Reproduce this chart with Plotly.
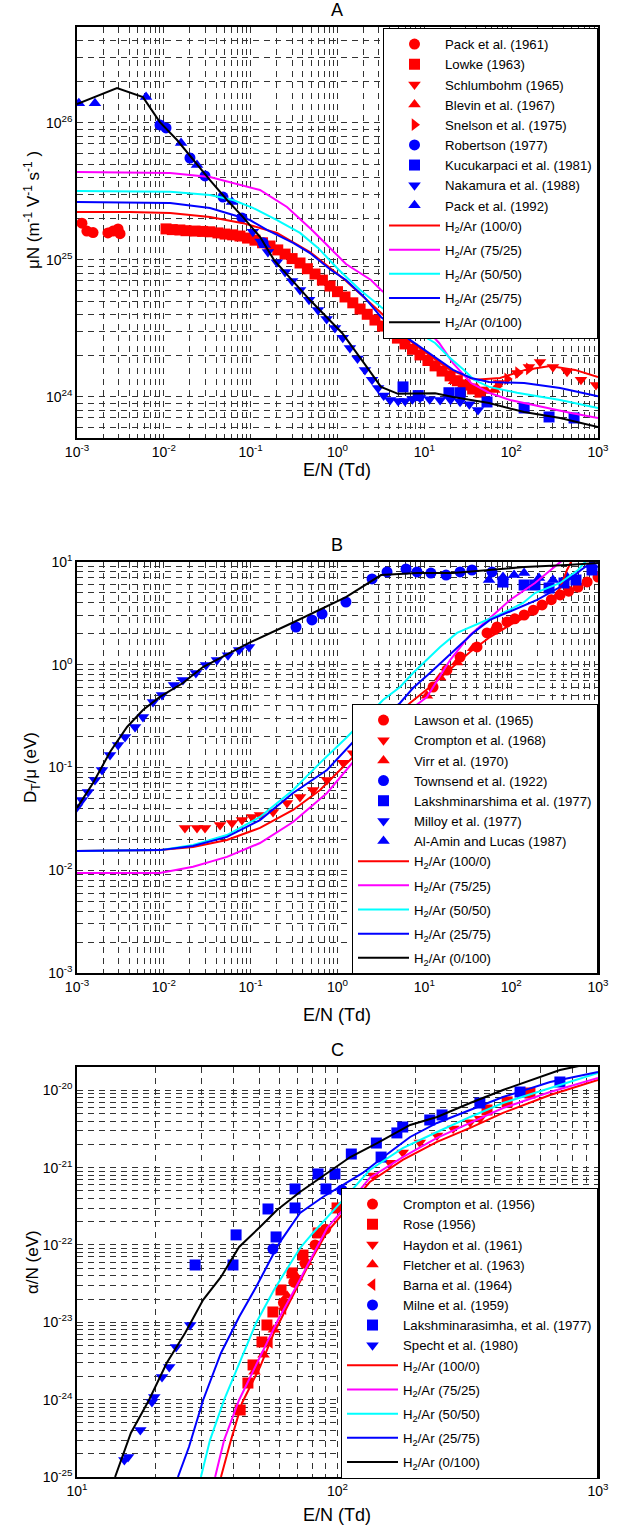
import plotly.graph_objects as go

FIG_W, FIG_H = 620, 1531
RED, MAG, CYA, BLU, BLK = "#ff0000", "#ff00ff", "#00ffff", "#0000ff", "#000000"
FONT = "Liberation Sans, Arial, sans-serif"
GRID = "#333333"

mix_names = ["H<sub>2</sub>/Ar (100/0)", "H<sub>2</sub>/Ar (75/25)", "H<sub>2</sub>/Ar (50/50)",
             "H<sub>2</sub>/Ar (25/75)", "H<sub>2</sub>/Ar (0/100)"]
mix_colors = [RED, MAG, CYA, BLU, BLK]

# ================= Panel A : mobility  muN =================
a_pack61_x = [1.14e-3, 1.30e-3, 1.53e-3, 2.27e-3, 2.60e-3, 2.97e-3, 3.13e-3]
a_pack61_y = [1.85e25, 1.62e25, 1.58e25, 1.57e25, 1.62e25, 1.68e25, 1.55e25]
a_lowke_x = [0.0106, 0.0125, 0.0153, 0.018, 0.0229, 0.028, 0.034, 0.042, 0.0506, 0.062, 0.0753, 0.092,
             0.112, 0.137, 0.167, 0.205, 0.249, 0.30, 0.370, 0.45, 0.551, 0.67, 0.820, 1.0, 1.22, 1.5,
             1.82, 2.2, 2.70, 3.3, 4.02, 4.9, 5.99, 7.3, 8.91, 11, 13.3, 16, 19.8, 24, 29.4, 36, 43.8]
a_lowke_y = [1.68e25, 1.66e25, 1.65e25, 1.63e25, 1.62e25, 1.61e25, 1.60e25, 1.57e25, 1.54e25, 1.52e25,
             1.49e25, 1.44e25, 1.39e25, 1.33e25, 1.26e25, 1.18e25, 1.10e25, 1.02e25, 9.47e24, 8.6e24,
             7.87e24, 7.1e24, 6.43e24, 5.85e24, 5.35e24, 4.85e24, 4.37e24, 4.0e24, 3.63e24, 3.28e24,
             2.97e24, 2.68e24, 2.43e24, 2.22e24, 2.02e24, 1.84e24, 1.68e24, 1.54e24, 1.42e24, 1.31e24,
             1.22e24, 1.14e24, 1.08e24]
a_schlum_x = [72.4, 117, 160, 215, 303, 440, 637, 948]
a_schlum_y = [1.26e24, 1.49e24, 1.65e24, 1.79e24, 1.65e24, 1.52e24, 1.33e24, 1.22e24]
a_blevin_x = [22, 28, 34, 42, 52, 64]
a_blevin_y = [1.30e24, 1.22e24, 1.17e24, 1.12e24, 1.10e24, 1.12e24]
a_snelson_x = [70, 90, 120, 160]
a_snelson_y = [1.2e24, 1.35e24, 1.5e24, 1.6e24]
a_robertson_x = [9.03e-3, 1.06e-2, 2.00e-2, 2.98e-2, 4.80e-2, 7.94e-2, 0.139]
a_robertson_y = [9.64e25, 9.16e25, 5.53e25, 4.09e25, 2.87e25, 2.02e25, 1.33e25]
a_kucuk_x = [5.68, 8.5, 19.2, 25.8, 52.7, 141, 273, 530]
a_kucuk_y = [1.18e24, 1.02e24, 1.07e24, 1.07e24, 9.16e23, 8.28e23, 7.12e23, 7.0e23]
a_nakamura_x = [0.106, 0.13, 0.158, 0.2, 0.249, 0.3, 0.370, 0.47, 0.596, 0.75, 0.935, 1.15, 1.39, 1.7,
                2.07, 2.5, 2.93, 3.4, 4.03, 5.0, 5.99, 7.3, 8.91, 11.5, 15.2, 20, 25.8, 33, 41.5]
a_nakamura_y = [1.60e25, 1.36e25, 1.14e25, 9.6e24, 8.14e24, 7.0e24, 6.02e24, 5.1e24, 4.30e24, 3.7e24,
                3.18e24, 2.7e24, 2.27e24, 1.9e24, 1.57e24, 1.33e24, 1.16e24, 1.02e24, 9.47e23, 9.3e23,
                9.31e23, 9.6e23, 9.8e23, 9.6e23, 9.47e23, 9.5e23, 9.2e23, 8.8e23, 8.0e23]
a_pack92_x = [1.05e-3, 1.61e-3, 6.24e-3, 1.58e-2, 2.41e-2, 6.10e-2, 0.146]
a_pack92_y = [1.39e26, 1.39e26, 1.54e26, 7.12e25, 4.92e25, 2.64e25, 1.28e25]

a_h2_100_x = [1e-3, 4.07e-3, 0.0118, 0.034, 0.0817, 0.201, 0.482, 1.22, 3.09, 7.81, 19.8, 38.4, 74.5, 145, 280, 543, 1000]
a_h2_100_y = [2.23e25, 2.23e25, 2.19e25, 2.05e25, 1.85e25, 1.57e25, 1.14e25, 7.12e24, 4.16e24, 2.39e24,
              1.57e24, 1.33e24, 1.37e24, 1.57e24, 1.68e24, 1.57e24, 1.39e24]
a_h2_75_x = [1e-3, 0.0118, 0.034, 0.0627, 0.128, 0.262, 0.508, 0.820, 1.25, 2.43, 3.17, 5.25, 8.91, 14.8,
             21.4, 34.5, 55.6, 97, 227, 489, 1000]
a_h2_75_y = [4.37e25, 4.30e25, 4.02e25, 3.63e25, 3.23e25, 2.43e25, 1.65e25, 1.22e25, 9.31e24, 7.12e24,
             6.02e24, 4.68e24, 3.51e24, 2.47e24, 1.76e24, 1.26e24, 1.07e24, 9.47e23, 8.42e23, 7.6e23, 7.0e23]
a_h2_50_x = [1e-3, 0.0118, 0.034, 0.0627, 0.106, 0.201, 0.370, 0.597, 1.04, 1.82, 3.17, 6.84, 13.3, 19.2,
             28.6, 37.3, 55.6, 117, 366, 1000]
a_h2_50_y = [3.18e25, 3.13e25, 2.97e25, 2.73e25, 2.39e25, 1.95e25, 1.57e25, 1.22e25, 8.42e24, 6.02e24,
             4.52e24, 3.18e24, 2.47e24, 1.95e24, 1.57e24, 1.33e24, 1.18e24, 1.07e24, 9.47e23, 8.28e23]
a_h2_25_x = [1e-3, 0.0118, 0.034, 0.0627, 0.0982, 0.154, 0.308, 0.482, 0.841, 1.25, 2.02, 3.17, 6.84, 14.8,
             21.4, 34.5, 55.6, 141, 366, 1000]
a_h2_25_y = [2.64e25, 2.60e25, 2.39e25, 2.12e25, 1.95e25, 1.65e25, 1.33e25, 1.12e25, 8.42e24, 7.12e24,
             5.35e24, 3.82e24, 2.6e24, 1.85e24, 1.57e24, 1.37e24, 1.28e24, 1.26e24, 1.16e24, 1.01e24]
a_h2_0_x = [1e-3, 2.89e-3, 5.75e-3, 9.0e-3, 1.42e-2, 2.17e-2, 3.40e-2, 5.35e-2, 8.17e-2, 0.128, 0.186, 0.482,
            1.13, 2.02, 3.17, 4.98, 8.24, 13.3, 21.4, 55.6, 141, 366, 1000]
a_h2_0_y = [1.37e26, 1.79e26, 1.54e26, 1.01e26, 7.48e25, 5.35e25, 3.82e25, 2.73e25, 2.05e25, 1.47e25, 9.95e24,
            5.08e24, 2.92e24, 1.76e24, 1.18e24, 1.05e24, 1.06e24, 1.06e24, 9.95e23, 8.99e23, 7.74e23, 7.0e23, 6.0e23]

# ================= Panel B : D_T / mu =================
b_lawson_x = [12.6, 18.2, 25.8, 40.4, 52.7, 68.7, 89.6, 110, 141, 180, 227, 290, 366, 460, 589, 750, 1000]
b_lawson_y = [0.607, 0.889, 1.19, 1.49, 2.04, 2.33, 2.61, 2.8, 3.05, 3.4, 3.82, 4.3, 4.78, 5.2, 5.71, 6.4, 7.14]
b_crompton_x = [0.0175, 0.0241, 0.0298, 0.0444, 0.061, 0.0794, 0.104, 0.128, 0.181, 0.262, 0.370, 0.523, 0.757, 1.16, 1.51]
b_crompton_y = [0.0258, 0.0258, 0.0258, 0.0275, 0.0288, 0.0308, 0.033, 0.0345, 0.0369, 0.0452, 0.0517, 0.0604,
                0.0755, 0.111, 0.138]
b_virr_x = [10.7, 15.2, 23.8, 36.4, 60]
b_virr_y = [0.5, 0.75, 1.05, 1.45, 2.1]
b_townsend_x = [0.333, 0.508, 0.664, 1.25, 2.50, 3.72, 6.15, 8.24, 11.9, 17.8, 25.8, 35.4, 60.2]
b_townsend_y = [2.33, 2.73, 3.12, 4.08, 6.84, 8.0, 8.55, 8.0, 7.81, 7.46, 8.0, 8.36, 8.0]
b_laksh_x = [80.5, 141, 188, 273, 406, 558, 853]
b_laksh_y = [6.38, 5.97, 5.97, 5.58, 6.25, 6.68, 8.36]
b_milloy_x = [1.0e-3, 1.14e-3, 1.34e-3, 1.61e-3, 1.94e-3, 2.40e-3, 2.97e-3, 3.57e-3, 4.66e-3, 5.75e-3, 7.50e-3,
              9.52e-3, 0.0131, 0.0166, 0.0234, 0.0306, 0.0409, 0.0548, 0.0735, 0.0957]
b_milloy_y = [0.0413, 0.0483, 0.0578, 0.0755, 0.0946, 0.132, 0.166, 0.198, 0.248, 0.310, 0.434, 0.508, 0.635,
              0.711, 0.832, 0.995, 1.11, 1.24, 1.39, 1.49]
b_alamin_x = [55.6, 80.5, 108, 141, 209, 303, 440, 853]
b_alamin_y = [6.68, 7.14, 7.46, 7.81, 6.98, 6.68, 7.14, 9.35]

b_h2_100_x = [0.001, 0.009, 0.0217, 0.0533, 0.128, 0.308, 0.630, 1.16, 1.51, 3.09, 6.84, 11.6, 18.2, 33.6,
              57.0, 97, 165, 280, 366, 440, 502]
b_h2_100_y = [0.0154, 0.0157, 0.0168, 0.0197, 0.0258, 0.0386, 0.0604, 0.101, 0.126, 0.232, 0.425, 0.607,
              0.849, 1.33, 1.86, 2.44, 3.05, 4.08, 5.58, 8.36, 10.45]
b_h2_75_x = [0.001, 0.009, 0.0217, 0.0533, 0.128, 0.308, 0.757, 1.51, 4.03, 10.7, 19.8, 33.6, 57.0, 97, 188, 366, 543]
b_h2_75_y = [0.0094, 0.0094, 0.0108, 0.0135, 0.0184, 0.0295, 0.0565, 0.113, 0.259, 0.486, 1.11, 1.95, 2.85,
             4.27, 6.25, 10.0, 13.1]
b_h2_50_x = [0.001, 0.009, 0.0217, 0.0533, 0.128, 0.308, 0.630, 1.29, 3.34, 5.25, 7.41, 11.6, 15.2, 23.8,
             43.8, 80.5, 137, 188, 366, 589, 709, 853]
b_h2_50_y = [0.0154, 0.0157, 0.0176, 0.022, 0.033, 0.0604, 0.111, 0.198, 0.454, 0.607, 0.832, 1.19, 1.49,
             2.04, 2.55, 3.19, 3.99, 4.99, 6.25, 8.36, 10.0, 11.7]
b_h2_25_x = [0.001, 0.009, 0.0217, 0.0533, 0.128, 0.308, 0.757, 1.51, 5.25, 7.41, 11.6, 18.2, 36.4, 57.0,
             105, 199, 366, 637, 853, 1000]
b_h2_25_y = [0.0154, 0.0157, 0.0172, 0.0211, 0.0308, 0.0565, 0.0946, 0.177, 0.425, 0.594, 0.832, 1.19, 2.04,
             2.73, 3.41, 4.27, 5.71, 8.36, 10.0, 11.7]
b_h2_0_x = [0.001, 0.00153, 0.0024, 0.00377, 0.00575, 0.009, 0.0166, 0.0282, 0.0957, 0.299, 1.25, 3.17, 8.24,
            21.4, 55.6, 141, 440, 1000]
b_h2_0_y = [0.0404, 0.0706, 0.1416, 0.248, 0.363, 0.486, 0.664, 0.95, 1.63, 2.55, 4.56, 7.46, 7.81, 7.81,
            8.36, 8.94, 9.35, 9.78]

# ================= Panel C : alpha / N =================
c_crompton_x = [62, 68, 75, 82, 90]
c_crompton_y = [1.8e-23, 3.3e-23, 5.8e-23, 1.0e-22, 1.6e-22]
c_rose_x = [42.3, 45.3, 47.4, 51.3, 53.6, 56.5, 60.7, 66.9, 73.7, 84.2, 99.6, 375, 448, 548]
c_rose_y = [7.35e-25, 1.64e-24, 2.81e-24, 5.57e-24, 9.23e-24, 1.36e-23, 2.62e-23, 4.35e-23, 7.41e-23,
            1.43e-22, 3.01e-22, 5.56e-21, 7.07e-21, 9.22e-21]
c_haydon_x = [137, 159, 178, 207, 241, 278, 323, 352]
c_haydon_y = [7.9e-22, 1.16e-21, 1.57e-21, 2.12e-21, 2.6e-21, 3.2e-21, 3.85e-21, 4.3e-21]
c_fletcher_x = [48, 52, 57, 64, 70, 76]
c_fletcher_y = [2.3e-24, 3.8e-24, 8e-24, 2.2e-23, 3.8e-23, 6e-23]
c_barna_x = [49, 55, 62, 68]
c_barna_y = [2.6e-24, 5.5e-24, 1.5e-23, 3.2e-23]
c_milne_x = [56.5, 104]
c_milne_y = [8.87e-23, 5.14e-22]
c_laksh_x = [28.4, 39.7, 40.8, 54.1, 58.1, 68.7, 68.7, 84.2, 90.3, 97.8, 113, 141, 147, 169, 178, 226, 252, 352, 502, 714]
c_laksh_y = [5.51e-23, 5.51e-23, 1.35e-22, 2.92e-22, 1.27e-22, 5.30e-22, 3.01e-22, 8.28e-22, 5.30e-22, 8.28e-22,
             1.50e-21, 2.08e-21, 1.37e-21, 2.81e-21, 3.35e-21, 4.13e-21, 4.80e-21, 6.85e-21, 9.5e-21, 1.28e-20]
c_specht_x = [15.2, 15.7, 17.5, 19.4, 19.8, 21.2, 22.6, 24.0, 27.2]
c_specht_y = [1.66e-25, 1.81e-25, 4.06e-25, 9.33e-25, 1.08e-24, 1.96e-24, 2.64e-24, 4.80e-24, 9.23e-24]

c_h2_100_x = [35.7, 39.0, 43.0, 50.4, 57.0, 66.9, 78.4, 91.2, 105, 133, 178, 241, 323, 432, 655, 1000]
c_h2_100_y = [1e-25, 3.0e-25, 9.06e-25, 2.64e-24, 7.28e-24, 2.12e-23, 6.03e-23, 1.47e-22, 2.59e-22, 6.51e-22,
              1.26e-21, 2.15e-21, 3.26e-21, 5.1e-21, 8.7e-21, 1.36e-20]
c_h2_75_x = [33.9, 36.7, 41.9, 50.4, 59.1, 69.3, 78.4, 91.2, 105, 133, 178, 241, 323, 432, 655, 1000]
c_h2_75_y = [1e-25, 3.0e-25, 9.91e-25, 3.56e-24, 1.07e-23, 2.86e-23, 6.40e-23, 1.66e-22, 2.83e-22, 7.35e-22,
             1.37e-21, 2.42e-21, 3.78e-21, 5.90e-21, 9.5e-21, 1.44e-20]
c_h2_50_x = [29.9, 32.4, 36.7, 41.9, 48.7, 57.0, 71.8, 80.5, 91.2, 105, 133, 178, 241, 323, 432, 655, 1000]
c_h2_50_y = [1e-25, 3.0e-25, 9.91e-25, 2.98e-24, 9.8e-24, 2.62e-23, 9.14e-23, 1.43e-22, 2.30e-22, 3.82e-22,
             9.31e-22, 1.79e-21, 2.89e-21, 4.52e-21, 6.85e-21, 1.07e-20, 1.68e-20]
c_h2_25_x = [24.4, 26.9, 30.5, 35.7, 41.9, 48.7, 57.0, 60.1, 71.8, 87.9, 102, 125, 150, 190, 241, 323, 432, 655, 1000]
c_h2_25_y = [1e-25, 2.44e-25, 9.91e-25, 4.01e-24, 1.17e-23, 2.86e-23, 7.87e-23, 1.09e-22, 2.59e-22, 4.17e-22,
             5.62e-22, 8.53e-22, 1.37e-21, 2.49e-21, 3.78e-21, 5.56e-21, 8.18e-21, 1.28e-20, 1.73e-20]
c_h2_0_x = [14.0, 16.1, 18.9, 22.1, 26.0, 30.5, 35.7, 41.9, 50.4, 58.6, 71.8, 91.1, 112, 142, 190, 241, 323,
            432, 714, 1000]
c_h2_0_y = [1.0e-25, 3.71e-25, 9.91e-25, 2.98e-24, 7.28e-24, 1.95e-23, 3.86e-23, 9.42e-23, 1.71e-22, 2.83e-22,
            4.84e-22, 8.53e-22, 1.37e-21, 2.08e-21, 3.56e-21, 4.52e-21, 6.85e-21, 1.01e-20, 1.83e-20, 2.32e-20]

# ---------------- geometry (pixels) ----------------
XL, XR = 77, 598
A_T, A_B = 27, 438
B_T, B_B = 562, 973
C_T, C_B = 1067, 1477


def fx(p):
    return p / FIG_W


def fy(p):
    return 1 - p / FIG_H


fig = go.Figure()


def add_markers(x, y, name, symbol, color, xa, ya, legend, group):
    fig.add_trace(go.Scatter(x=x, y=y, mode="markers", name=name, xaxis=xa, yaxis=ya,
                             legend=legend, legendgroup=group,
                             marker=dict(symbol=symbol, size=11, color=color, line=dict(width=0))))


def add_lines(xs, ys, xa, ya, legend, tag):
    for i, (x, y) in enumerate(zip(xs, ys)):
        group = tag + "data" if i == 0 else tag + "l%d" % i
        fig.add_trace(go.Scatter(x=x, y=y, mode="lines", name=mix_names[i], xaxis=xa, yaxis=ya,
                                 legend=legend, legendgroup=group,
                                 line=dict(color=mix_colors[i], width=2)))


# Panel A traces
for x, y, n, s, c in [
    (a_pack61_x, a_pack61_y, "Pack et al. (1961)", "circle", RED),
    (a_lowke_x, a_lowke_y, "Lowke (1963)", "square", RED),
    (a_schlum_x, a_schlum_y, "Schlumbohm (1965)", "triangle-down", RED),
    (a_blevin_x, a_blevin_y, "Blevin et al. (1967)", "triangle-up", RED),
    (a_snelson_x, a_snelson_y, "Snelson et al. (1975)", "triangle-right", RED),
    (a_robertson_x, a_robertson_y, "Robertson (1977)", "circle", BLU),
    (a_kucuk_x, a_kucuk_y, "Kucukarpaci et al. (1981)", "square", BLU),
    (a_nakamura_x, a_nakamura_y, "Nakamura et al. (1988)", "triangle-down", BLU),
    (a_pack92_x, a_pack92_y, "Pack et al. (1992)", "triangle-up", BLU),
]:
    add_markers(x, y, n, s, c, "x", "y", "legend", "Adata")
add_lines([a_h2_100_x, a_h2_75_x, a_h2_50_x, a_h2_25_x, a_h2_0_x],
          [a_h2_100_y, a_h2_75_y, a_h2_50_y, a_h2_25_y, a_h2_0_y], "x", "y", "legend", "A")

# Panel B traces
for x, y, n, s, c in [
    (b_lawson_x, b_lawson_y, "Lawson et al. (1965)", "circle", RED),
    (b_crompton_x, b_crompton_y, "Crompton et al. (1968)", "triangle-down", RED),
    (b_virr_x, b_virr_y, "Virr et al. (1970)", "triangle-up", RED),
    (b_townsend_x, b_townsend_y, "Townsend et al. (1922)", "circle", BLU),
    (b_laksh_x, b_laksh_y, "Lakshminarshima et al. (1977)", "square", BLU),
    (b_milloy_x, b_milloy_y, "Milloy et al. (1977)", "triangle-down", BLU),
    (b_alamin_x, b_alamin_y, "Al-Amin and Lucas (1987)", "triangle-up", BLU),
]:
    add_markers(x, y, n, s, c, "x2", "y2", "legend2", "Bdata")
add_lines([b_h2_100_x, b_h2_75_x, b_h2_50_x, b_h2_25_x, b_h2_0_x],
          [b_h2_100_y, b_h2_75_y, b_h2_50_y, b_h2_25_y, b_h2_0_y], "x2", "y2", "legend2", "B")

# Panel C traces
for x, y, n, s, c in [
    (c_crompton_x, c_crompton_y, "Crompton et al. (1956)", "circle", RED),
    (c_rose_x, c_rose_y, "Rose (1956)", "square", RED),
    (c_haydon_x, c_haydon_y, "Haydon et al. (1961)", "triangle-down", RED),
    (c_fletcher_x, c_fletcher_y, "Fletcher et al. (1963)", "triangle-up", RED),
    (c_barna_x, c_barna_y, "Barna et al. (1964)", "triangle-left", RED),
    (c_milne_x, c_milne_y, "Milne et al. (1959)", "circle", BLU),
    (c_laksh_x, c_laksh_y, "Lakshminarasimha, et al. (1977)", "square", BLU),
    (c_specht_x, c_specht_y, "Specht et al. (1980)", "triangle-down", BLU),
]:
    add_markers(x, y, n, s, c, "x3", "y3", "legend3", "Cdata")
add_lines([c_h2_100_x, c_h2_75_x, c_h2_50_x, c_h2_25_x, c_h2_0_x],
          [c_h2_100_y, c_h2_75_y, c_h2_50_y, c_h2_25_y, c_h2_0_y], "x3", "y3", "legend3", "C")


def log_axis(domain, lo, hi, rng, anchor):
    majors = list(range(lo, hi + 1))
    minors = [m * 10.0 ** k for k in range(lo - 1, hi + 1) for m in range(2, 10)]
    return dict(type="log", domain=domain, range=rng, anchor=anchor,
                tickmode="array", tickvals=[10.0 ** k for k in majors],
                ticktext=["10<sup>%d</sup>" % k for k in majors],
                tickfont=dict(family=FONT, size=14, color="black"), ticks="",
                ticklabeloverflow="allow",
                showline=True, linecolor="black", linewidth=1.5, mirror=True,
                showgrid=True, gridcolor=GRID, gridwidth=1, griddash="6px,5px",
                minor=dict(tickmode="array", tickvals=minors, showgrid=True, gridcolor=GRID,
                           gridwidth=1, griddash="6px,5px", ticks=""),
                zeroline=False, automargin=False)


xdom = [fx(XL), fx(XR)]
layout = dict(
    width=FIG_W, height=FIG_H, margin=dict(l=0, r=0, t=0, b=0),
    paper_bgcolor="white", plot_bgcolor="white", hovermode=False,
    font=dict(family=FONT, color="black"),
    xaxis=log_axis(xdom, -3, 3, [-3, 3], "y"),
    yaxis=log_axis([fy(A_B), fy(A_T)], 24, 26, [23.69897, 26.69897], "x"),
    xaxis2=log_axis(xdom, -3, 3, [-3, 3], "y2"),
    yaxis2=log_axis([fy(B_B), fy(B_T)], -3, 1, [-3, 1], "x2"),
    xaxis3=log_axis(xdom, 1, 3, [1, 3], "y3"),
    yaxis3=log_axis([fy(C_B), fy(C_T)], -25, -20, [-25, -19.69897], "x3"),
)

leg_common = dict(xanchor="right", yanchor="top", bgcolor="white", bordercolor="black", borderwidth=1,
                  font=dict(family=FONT, size=13.2, color="black"), itemwidth=51,
                  traceorder="grouped", tracegroupgap=4, itemclick=False, itemdoubleclick=False)
layout["legend"] = dict(x=fx(XR), y=fy(28), **leg_common)
layout["legend2"] = dict(x=fx(XR), y=fy(704), **leg_common)
layout["legend3"] = dict(x=fx(XR), y=fy(1188), **leg_common)

ann = []


def text(px, py, t, size, angle=0):
    ann.append(dict(x=fx(px), y=fy(py), xref="paper", yref="paper", text=t, showarrow=False,
                    textangle=angle, xanchor="center", yanchor="middle",
                    font=dict(family=FONT, size=size, color="black")))


text(337, 10, "A", 18)
text(337, 545, "B", 18)
text(337, 1050, "C", 18)
text(337, 470, "E/N (Td)", 18)
text(337, 1015, "E/N (Td)", 18)
text(337, 1515, "E/N (Td)", 18)
text(32, 210, "\u03bcN (m<sup>-1</sup> V<sup>-1</sup> s<sup>-1</sup> )", 17, -90)
text(32, 768, "D<sub>T</sub>/\u03bc (eV)", 17, -90)
text(32, 1262, "\u03b1/N (eV)", 17, -90)
layout["annotations"] = ann

fig.update_layout(**layout)
fig.write_html("out.html", config={"displayModeBar": False},
               post_script="document.body.style.margin='0';document.body.style.overflow='hidden';")
